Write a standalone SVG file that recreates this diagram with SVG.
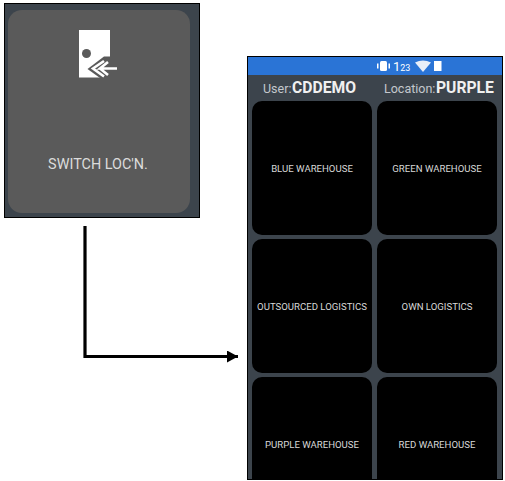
<svg xmlns="http://www.w3.org/2000/svg" width="505" height="481" viewBox="0 0 505 481">
<style>
text{font-family:Roboto,"Liberation Sans",sans-serif}
.btn{fill:#000}
.lbl{fill:#d8d8d8;font-size:9.600px;text-anchor:middle}
.hdr{fill:#c4c8cc;font-size:12.500px}
.hdrb{fill:#f0f0f0;font-size:15.700px;font-weight:700}
</style>
<defs><marker id="ah" markerUnits="userSpaceOnUse" markerWidth="12" markerHeight="12" refX="11" refY="6" orient="auto"><path d="M0 0L11 6L0 12Z" fill="#000"/></marker></defs>
<rect width="505" height="481" fill="#fff"/>
<g id="switch-tile">
<rect x="4.500" y="3.500" width="195" height="214" fill="#3c444c" stroke="#000"/>
<rect x="8" y="10" width="182" height="203" rx="14" fill="#5a5a5a"/>
<rect x="79" y="30" width="31" height="47.500" fill="#fff"/>
<circle cx="86.500" cy="53.500" r="4.500" fill="#5a5a5a"/>
<path d="M87.500 69L104 56.500H110V78H100Z" fill="#5a5a5a"/>
<path d="M104 61L93 68.500L104 76.500M108 62L100 68.500H117M100 68.500L108 75" fill="none" stroke="#fff" stroke-width="2.600"/>
<text x="98" y="169" font-size="14.400" fill="#dcdcdc" text-anchor="middle">SWITCH LOC'N.</text>
</g>
<g id="connectors">
<path d="M85 226V356.500H238" fill="none" stroke="#000" stroke-width="3.200" marker-end="url(#ah)"/>
</g>
<g id="phone">
<rect x="247.500" y="56.500" width="255" height="423" fill="#3c444c" stroke="#000"/>
<rect x="248" y="57" width="254" height="18" fill="#2a74d6"/>
<g fill="#fff">
<rect x="380" y="61" width="7" height="10" rx="1.500"/><rect x="377" y="63.500" width="1.500" height="5"/><rect x="388.500" y="63.500" width="1.500" height="5"/>
<path d="M415 62.500Q423 58.500 431 62.500L423 72Z" fill="#e8eef8"/>
<rect x="434" y="61" width="7.500" height="10"/>
</g>
<text x="393" y="71" font-size="13" fill="#fff">1<tspan font-size="9">23</tspan></text>
<text x="263" y="93" class="hdr">User:</text><text x="292" y="93" class="hdrb">CDDEMO</text>
<text x="384" y="93" class="hdr">Location:</text><text x="436" y="93" class="hdrb">PURPLE</text>
</g>
<g id="blue-warehouse"><rect class="btn" x="252" y="101" width="120" height="134" rx="10"/><text class="lbl" x="312" y="172">BLUE WAREHOUSE</text></g>
<g id="green-warehouse"><rect class="btn" x="377" y="101" width="120" height="134" rx="10"/><text class="lbl" x="437" y="172">GREEN WAREHOUSE</text></g>
<g id="outsourced-logistics"><rect class="btn" x="252" y="239" width="120" height="134" rx="10"/><text class="lbl" x="312" y="310">OUTSOURCED LOGISTICS</text></g>
<g id="own-logistics"><rect class="btn" x="377" y="239" width="120" height="134" rx="10"/><text class="lbl" x="437" y="310">OWN LOGISTICS</text></g>
<g id="purple-warehouse"><path class="btn" d="M252 479V387a10 10 0 0 1 10-10H362a10 10 0 0 1 10 10V479Z"/><text class="lbl" x="312" y="448">PURPLE WAREHOUSE</text></g>
<g id="red-warehouse"><path class="btn" d="M377 479V387a10 10 0 0 1 10-10H487a10 10 0 0 1 10 10V479Z"/><text class="lbl" x="437" y="448">RED WAREHOUSE</text></g>
</svg>
